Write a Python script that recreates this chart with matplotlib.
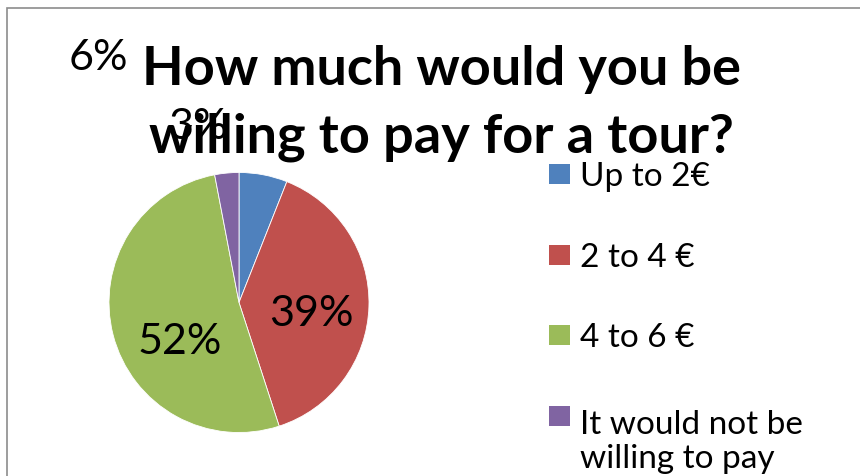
import matplotlib
matplotlib.use("Agg")
import matplotlib.pyplot as plt
from matplotlib.patches import Rectangle

plt.rcParams['font.family'] = ['Lato', 'DejaVu Sans']

# ── data ─────────────────────────────────────────────────────────────
categories = ["Up to 2€", "2 to 4 €", "4 to 6 €", "It would not be\nwilling to pay"]
shares     = [6, 39, 52, 3]
colors     = ["#4F81BD", "#C0504D", "#9BBB59", "#8064A2"]
title_lines = ["How much would you be", "willing to pay for a tour?"]

# percentage label spots, in pie units (radius = 1)
label_xy = [(-1.085, 1.888), (0.554, -0.081), (-0.454, -0.296), (-0.315, 1.358)]

W, H = 860, 477
fig = plt.figure(figsize=(W / 100, H / 100), dpi=100)
fig.patch.set_facecolor("white")


def fx(px):
    return px / W


def fy(py):
    # pixel rows counted from the top
    return 1 - py / H


# outer chart frame (runs off the right and bottom edges)
fig.add_artist(Rectangle((fx(7), -0.1), 1.2, fy(9) + 0.1,
                         transform=fig.transFigure, fill=False,
                         edgecolor="#8c8c8c", lw=1.2, clip_on=False))

# ── pie ──────────────────────────────────────────────────────────────
cx, cy, r = 239, 303.5, 130
ax = fig.add_axes([fx(cx - r), fy(cy + r), 2 * r / W, 2 * r / H])
wedges, _ = ax.pie(shares, colors=colors, startangle=90, counterclock=False,
                   radius=1.0, wedgeprops=dict(edgecolor="white", linewidth=0.6))
ax.set_xlim(-1, 1)
ax.set_ylim(-1, 1)
ax.set_aspect("equal")
ax.axis("off")

for v, (x, y) in zip(shares, label_xy):
    ax.text(x, y, f"{v}%", ha="center", va="center", fontsize=31,
            color="black", zorder=3, clip_on=False)

# ── title (drawn over the labels) ────────────────────────────────────
for line, base in zip(title_lines, [85, 153]):
    fig.text(fx(441), fy(base), line, ha="center", va="baseline",
             fontsize=39, fontweight="bold", zorder=10)

# ── legend ───────────────────────────────────────────────────────────
for i, (cat, col) in enumerate(zip(categories, colors)):
    base = 186 + i * 80.7
    fig.add_artist(Rectangle((fx(549), fy(base - 1)), 21 / W, 20 / H,
                             transform=fig.transFigure, facecolor=col,
                             edgecolor="none"))
    n_extra = cat.count("\n")
    fig.text(fx(580), fy(base + 40 * n_extra), cat, ha="left", va="baseline",
             fontsize=24, linespacing=1.18)

fig.savefig("out.png", dpi=100)
